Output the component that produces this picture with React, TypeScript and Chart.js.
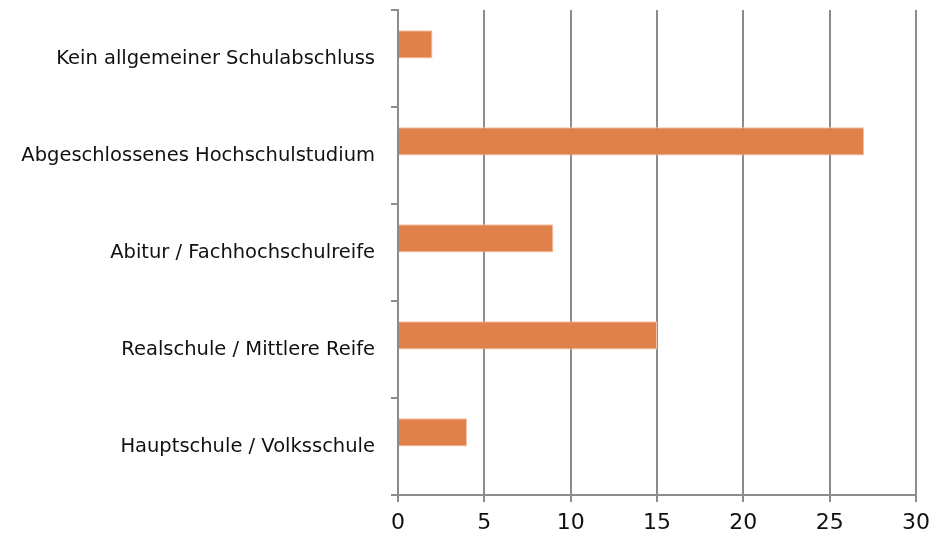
import React, { useEffect, useRef } from "react";
import { Chart, registerables } from "chart.js";

Chart.register(...registerables);

const categories = [
  "Kein allgemeiner Schulabschluss",
  "Abgeschlossenes Hochschulstudium",
  "Abitur / Fachhochschulreife",
  "Realschule / Mittlere Reife",
  "Hauptschule / Volksschule",
];
const values = [2, 27, 9, 15, 4];
const emptySeries = [null, null, null, null, null];
const xMin = 0;
const xMax = 30;
const xStep = 5;

const GRID = "#8c8c8c";
const FONT = "'DejaVu Sans', sans-serif";

export default function App() {
  const ref = useRef<HTMLCanvasElement | null>(null);
  useEffect(() => {
    if (!ref.current) return;
    const chart = new Chart(ref.current, {
      type: "bar",
      data: {
        labels: categories,
        datasets: [
          {
            data: values,
            backgroundColor: "#e0804a",
            borderColor: "#f2c3a6",
            borderWidth: 1,
            barPercentage: 1,
            categoryPercentage: 0.58,
          },
          {
            data: emptySeries as any,
            backgroundColor: "transparent",
            barPercentage: 1,
            categoryPercentage: 0.58,
          },
        ],
      },
      options: {
        indexAxis: "y",
        animation: false,
        responsive: false,
        maintainAspectRatio: false,
        layout: { padding: { top: 10, right: 31, left: 0, bottom: 0 } },
        plugins: { legend: { display: false }, tooltip: { enabled: false } },
        scales: {
          x: {
            min: xMin,
            max: xMax,
            ticks: {
              stepSize: xStep,
              color: "#111",
              font: { family: FONT, size: 22 },
              padding: 8,
            },
            grid: {
              color: GRID,
              lineWidth: 2,
              tickLength: 7,
            },
            border: { color: GRID, width: 2 },
            afterFit: (s: any) => {
              s.height = 42;
              s.paddingLeft = 0;
              s.paddingRight = 0;
            },
          },
          y: {
            ticks: {
              color: "#111",
              font: { family: FONT, size: 19.5 },
              padding: 16,
            },
            grid: {
              offset: true,
              drawOnChartArea: false,
              color: GRID,
              lineWidth: 2,
              tickLength: 7,
            },
            border: { color: GRID, width: 2 },
            afterFit: (s: any) => {
              s.width = 398;
              s.paddingTop = 0;
              s.paddingBottom = 0;
            },
          },
        },
      },
    });
    return () => chart.destroy();
  }, []);
  return (
    <div style={{ position: "fixed", left: 0, top: 0, width: 947, height: 537, background: "#fff" }}>
      <canvas ref={ref} width={947} height={537} style={{ width: 947, height: 537 }} />
    </div>
  );
}
